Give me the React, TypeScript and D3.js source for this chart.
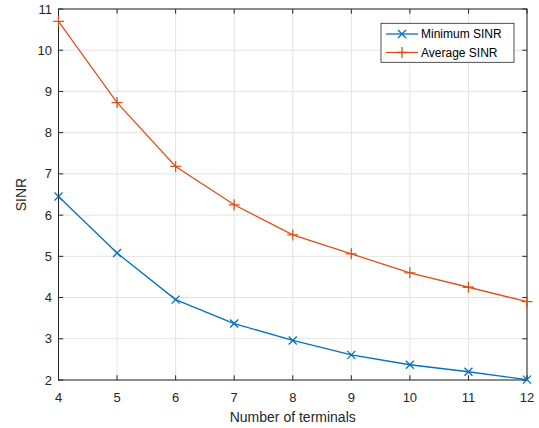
import React from "react";
import * as d3 from "d3";

const terminals = [4, 5, 6, 7, 8, 9, 10, 11, 12];
const minimumSINR = [6.45, 5.08, 3.95, 3.37, 2.96, 2.61, 2.37, 2.2, 2.01];
const averageSINR = [10.7, 8.73, 7.18, 6.25, 5.52, 5.06, 4.6, 4.25, 3.9];
const xTicks = [4, 5, 6, 7, 8, 9, 10, 11, 12];
const yTicks = [2, 3, 4, 5, 6, 7, 8, 9, 10, 11];
const seriesNames = ["Minimum SINR", "Average SINR"];

const W = 539;
const H = 428;
const L = 58.5;
const R = 527;
const T = 9;
const B = 380;
const FONT = "'Liberation Sans', Arial, Helvetica, sans-serif";
const AX = "#262626";
const BLUE = "#0072BD";
const ORANGE = "#D95319";

export default function App() {
  const x = d3.scaleLinear().domain([4, 12]).range([L, R]);
  const y = d3.scaleLinear().domain([2, 11]).range([B, T]);
  const line = d3
    .line<number>()
    .x((_, i) => x(terminals[i]))
    .y((d) => y(d));
  const tl = 4.7;
  const cross = (cx: number, cy: number, c: string, k: string) => (
    <path
      key={k}
      d={`M${cx - 4},${cy - 4}L${cx + 4},${cy + 4}M${cx - 4},${cy + 4}L${cx + 4},${cy - 4}`}
      stroke={c}
      strokeWidth={1.3}
      fill="none"
    />
  );
  const plus = (cx: number, cy: number, c: string, k: string) => (
    <path
      key={k}
      d={`M${cx - 5.5},${cy}L${cx + 5.5},${cy}M${cx},${cy - 5.5}L${cx},${cy + 5.5}`}
      stroke={c}
      strokeWidth={1.3}
      fill="none"
    />
  );
  const lgX = 381;
  const lgY = 23.3;
  const lgW = 133;
  const lgH = 39;
  return (
    <svg
      width={W}
      height={H}
      style={{ position: "absolute", left: 0, top: 0, background: "#fff" }}
      fontFamily={FONT}
    >
      <rect x={L} y={T} width={R - L} height={B - T} fill="#fff" />
      {xTicks.map((t) => (
        <line key={"gx" + t} x1={x(t)} x2={x(t)} y1={T} y2={B} stroke="#e3e3e3" strokeWidth={1} />
      ))}
      {yTicks.map((t) => (
        <line key={"gy" + t} x1={L} x2={R} y1={y(t)} y2={y(t)} stroke="#e3e3e3" strokeWidth={1} />
      ))}
      {xTicks.map((t) => (
        <g key={"tx" + t}>
          <line x1={x(t)} x2={x(t)} y1={B} y2={B - tl} stroke={AX} />
          <line x1={x(t)} x2={x(t)} y1={T} y2={T + tl} stroke={AX} />
          <text x={x(t)} y={397} fontSize={13} textAnchor="middle" dominantBaseline="central" fill={AX}>
            {t}
          </text>
        </g>
      ))}
      {yTicks.map((t) => (
        <g key={"ty" + t}>
          <line x1={L} x2={L + tl} y1={y(t)} y2={y(t)} stroke={AX} />
          <line x1={R} x2={R - tl} y1={y(t)} y2={y(t)} stroke={AX} />
          <text x={52} y={y(t)} fontSize={13} textAnchor="end" dominantBaseline="central" fill={AX}>
            {t}
          </text>
        </g>
      ))}
      <rect x={L} y={T} width={R - L} height={B - T} fill="none" stroke={AX} strokeWidth={1} />
      <path d={line(minimumSINR) || ""} fill="none" stroke={BLUE} strokeWidth={1.3} />
      <path d={line(averageSINR) || ""} fill="none" stroke={ORANGE} strokeWidth={1.3} />
      {minimumSINR.map((v, i) => cross(x(terminals[i]), y(v), BLUE, "m" + i))}
      {averageSINR.map((v, i) => plus(x(terminals[i]), y(v), ORANGE, "a" + i))}
      <text x={(L + R) / 2} y={416.5} fontSize={14} textAnchor="middle" dominantBaseline="central" fill={AX}>
        Number of terminals
      </text>
      <text
        transform={`translate(21,${(T + B) / 2}) rotate(-90)`}
        fontSize={14}
        textAnchor="middle"
        dominantBaseline="central"
        fill={AX}
      >
        SINR
      </text>
      <rect x={lgX} y={lgY} width={lgW} height={lgH} fill="#fff" stroke={AX} strokeWidth={0.8} />
      {seriesNames.map((n, i) => {
        const cy = i === 0 ? 34 : 52.5;
        const c = i === 0 ? BLUE : ORANGE;
        return (
          <g key={n}>
            <line x1={386} x2={418} y1={cy} y2={cy} stroke={c} strokeWidth={1.3} />
            {i === 0 ? cross(402, cy, c, "lc") : plus(402, cy, c, "lp")}
            <text x={421} y={cy} fontSize={12} dominantBaseline="central" fill="#000">
              {n}
            </text>
          </g>
        );
      })}
    </svg>
  );
}
